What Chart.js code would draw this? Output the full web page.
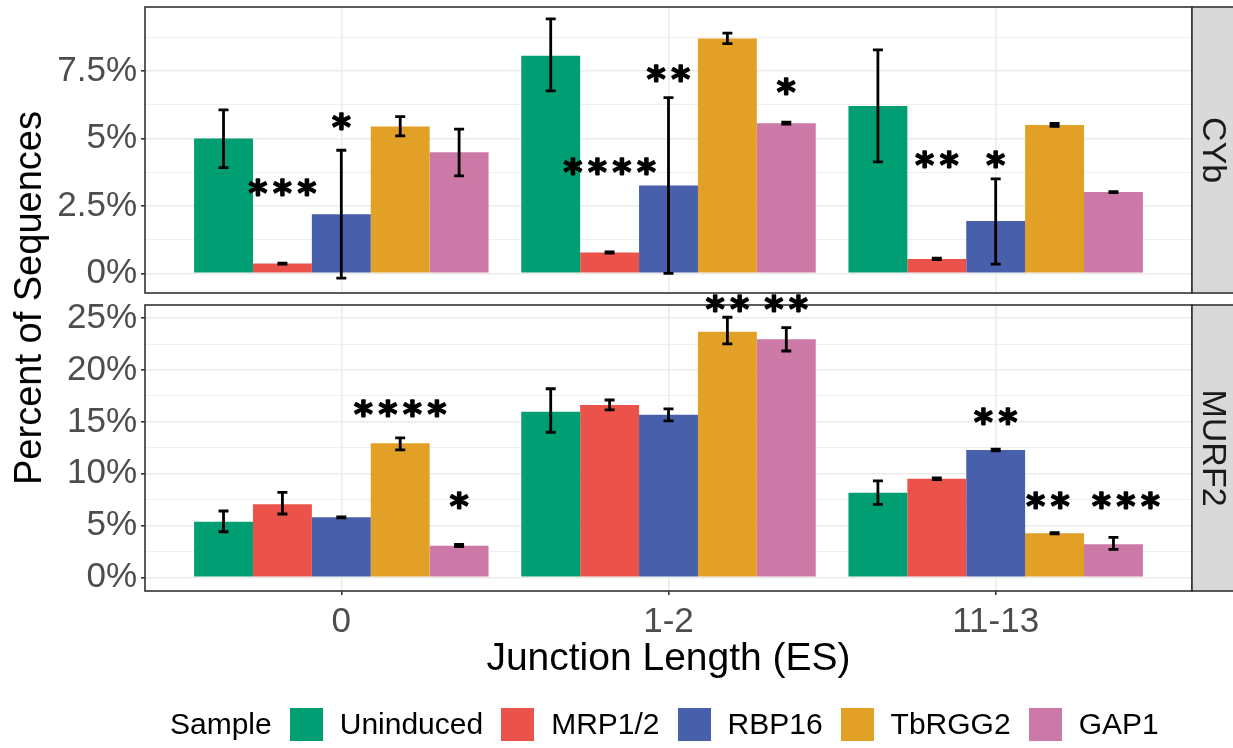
<!DOCTYPE html>
<html>
<head>
<meta charset="utf-8">
<title>Junction length by sample</title>
<script src="https://cdn.jsdelivr.net/npm/chart.js@4.4.1/dist/chart.umd.min.js"></script>
<style>
  html, body { margin: 0; padding: 0; background: #fff; }
  body { width: 1233px; height: 748px; position: relative; overflow: hidden;
         font-family: "Liberation Sans", Arial, sans-serif; }
  canvas { position: absolute; left: 0; }
  #c-cyb   { top: 0; }
  #c-murf2 { top: 285px; }
  #ytitle { position: absolute; left: 28px; top: 298px; transform: translate(-50%, -50%) rotate(-90deg);
            font-size: 38px; line-height: 1; white-space: nowrap; color: #000; }
  #legend { position: absolute; left: 170px; top: 707px; height: 34px; display: flex; align-items: center;
            font-size: 30px; color: #000; white-space: nowrap; }
  .key { width: 33px; height: 33px; margin: 0 17px 0 18px; }
</style>
</head>
<body>
<canvas id="c-cyb" width="1233" height="300"></canvas>
<canvas id="c-murf2" width="1233" height="463"></canvas>
<div id="ytitle">Percent of Sequences</div>
<div id="legend"></div>

<script>
/* ── Data ───────────────────────────────────────────── */
const JUNCTIONS = ['0', '1-2', '11-13'];
const SAMPLES = ['Uninduced', 'MRP1/2', 'RBP16', 'TbRGG2', 'GAP1'];
const COLORS = ['#009E73', '#EB534A', '#4860AB', '#E3A026', '#CC79A7'];

// CYb: one row per sample, one column per junction length (%)
const CYB_MEAN = [
  [5.00, 8.06, 6.20],
  [0.36, 0.77, 0.53],
  [2.19, 3.25, 1.94],
  [5.44, 8.70, 5.50],
  [4.49, 5.56, 3.01],
];
const CYB_LOW = [
  [3.92, 6.76, 4.13],
  [0.34, 0.75, 0.51],
  [-0.18, 0.00, 0.34],
  [5.09, 8.51, 5.45],
  [3.61, 5.53, 2.99],
];
const CYB_HIGH = [
  [6.06, 9.43, 8.28],
  [0.38, 0.79, 0.56],
  [4.56, 6.51, 3.50],
  [5.81, 8.90, 5.56],
  [5.34, 5.60, 3.03],
];
const CYB_STARS = [
  ['', '', ''],
  ['***', '****', '**'],
  ['*', '**', '*'],
  ['', '', ''],
  ['', '*', ''],
];
const CYB_STAR_Y = [
  [null, null, null],
  [3.17, 3.96, 4.20],
  [5.62, 7.41, 4.20],
  [null, null, null],
  [null, 6.94, null],
];
const CYB_STAR_NUDGE = [
  [0, 0, 0], [0, 0, 0], [0, 0, 0], [0, 0, 0], [0, 0, 0],
];
const CYB_TICKS = [0, 2.5, 5, 7.5];
const CYB_MINOR = [1.25, 3.75, 6.25, 8.75];

// MURF2
const MURF2_MEAN = [
  [5.37, 15.99, 8.17],
  [7.04, 16.63, 9.52],
  [5.79, 15.70, 12.29],
  [12.93, 23.71, 4.25],
  [3.05, 22.97, 3.18],
];
const MURF2_LOW = [
  [4.40, 14.00, 7.04],
  [6.11, 16.15, 9.44],
  [5.74, 15.09, 12.20],
  [12.29, 22.52, 4.19],
  [2.97, 21.84, 2.70],
];
const MURF2_HIGH = [
  [6.40, 18.20, 9.30],
  [8.20, 17.11, 9.60],
  [5.84, 16.25, 12.38],
  [13.45, 25.10, 4.31],
  [3.17, 24.09, 3.86],
];
const MURF2_STARS = [
  ['', '', ''],
  ['', '', ''],
  ['', '', '**'],
  ['****', '**', '**'],
  ['*', '**', '***'],
];
const MURF2_STAR_Y = [
  [null, null, null],
  [null, null, null],
  [null, null, 15.5],
  [16.25, 26.45, 7.46],
  [7.46, 26.45, 7.46],
];
// label nudge along x, in junction-category units
const MURF2_STAR_NUDGE = [
  [0, 0, 0], [0, 0, 0], [0, 0, 0],
  [0, 0, -0.02],
  [0, 0, 0.038],
];
const MURF2_TICKS = [0, 5, 10, 15, 20, 25];
const MURF2_MINOR = [2.5, 7.5, 12.5, 17.5, 22.5];

/* ── Styles ─────────────────────────────────────────── */
const FONT = '"Liberation Sans", Arial, sans-serif';
const GRID = '#EBEBEB';
const DARK = '#333333';
const STAR_FONT = 'bold 36px "DejaVu Sans", sans-serif';
const STAR_STEP = 24.5;

/* ── Decorations: error bars, stars, border, strip ─── */
function decor(p) {
  return {
    id: 'decor',
    afterDatasetsDraw(chart) {
      const ctx = chart.ctx, y = chart.scales.y;
      ctx.save();
      ctx.strokeStyle = '#000';
      ctx.lineWidth = 2.8;
      chart.data.datasets.forEach((ds, i) => {
        chart.getDatasetMeta(i).data.forEach((bar, j) => {
          const lo = y.getPixelForValue(p.low[i][j]);
          const hi = y.getPixelForValue(p.high[i][j]);
          ctx.beginPath();
          ctx.moveTo(bar.x, lo); ctx.lineTo(bar.x, hi);
          ctx.moveTo(bar.x - 5, lo); ctx.lineTo(bar.x + 5, lo);
          ctx.moveTo(bar.x - 5, hi); ctx.lineTo(bar.x + 5, hi);
          ctx.stroke();
        });
      });
      ctx.restore();
    },
    afterDraw(chart) {
      const ctx = chart.ctx, a = chart.chartArea, x = chart.scales.x, y = chart.scales.y;
      ctx.save();
      // panel border
      ctx.strokeStyle = DARK;
      ctx.lineWidth = 1.6;
      ctx.strokeRect(a.left, a.top, a.right - a.left, a.bottom - a.top);
      // facet strip
      ctx.fillStyle = '#D9D9D9';
      ctx.fillRect(a.right, a.top, chart.width - a.right, a.bottom - a.top);
      ctx.strokeRect(a.right, a.top, chart.width - a.right + 2, a.bottom - a.top);
      ctx.translate((a.right + chart.width) / 2, (a.top + a.bottom) / 2);
      ctx.rotate(Math.PI / 2);
      ctx.fillStyle = '#1A1A1A';
      ctx.font = `34px ${FONT}`;
      ctx.textAlign = 'center';
      ctx.textBaseline = 'middle';
      ctx.fillText(p.strip, 0, 0);
      ctx.restore();

      // significance stars (stroked as well, for a heavier glyph)
      ctx.save();
      ctx.font = STAR_FONT;
      ctx.fillStyle = '#000';
      ctx.strokeStyle = '#000';
      ctx.lineWidth = 1.6;
      ctx.lineJoin = 'round';
      ctx.textAlign = 'center';
      ctx.textBaseline = 'alphabetic';
      const m = ctx.measureText('*');
      const off = (m.actualBoundingBoxAscent - m.actualBoundingBoxDescent) / 2;
      const unit = x.getPixelForValue(1) - x.getPixelForValue(0);
      chart.data.datasets.forEach((ds, i) => {
        chart.getDatasetMeta(i).data.forEach((bar, j) => {
          const s = p.stars[i][j];
          if (!s) return;
          const px = bar.x + p.nudge[i][j] * unit;
          const py = y.getPixelForValue(p.starY[i][j]) + off;
          for (let k = 0; k < s.length; k++) {
            const sx = px + (k - (s.length - 1) / 2) * STAR_STEP;
            ctx.fillText('*', sx, py);
            ctx.strokeText('*', sx, py);
          }
        });
      });
      ctx.restore();
    },
  };
}

/* ── Panel builder ──────────────────────────────────── */
function buildPanel(canvas, p) {
  const datasets = SAMPLES.map((name, i) => ({
    label: name,
    data: p.mean[i].map((v, j) => ({ x: j, y: v })),
    backgroundColor: COLORS[i],
    borderWidth: 0,
    categoryPercentage: 0.9,
    barPercentage: 1.0,
  }));
  const yTicks = [...p.major, ...p.minor].sort((a, b) => a - b);
  const isMajor = v => p.major.includes(v);

  return new Chart(canvas, {
    type: 'bar',
    data: { datasets },
    options: {
      responsive: false,
      animation: false,
      events: [],
      layout: { padding: { top: p.padTop, bottom: p.padBottom, left: 0, right: 41 } },
      plugins: { legend: { display: false }, tooltip: { enabled: false } },
      scales: {
        x: {
          type: 'linear',
          min: -0.6, max: 2.6,
          offset: false,
          afterBuildTicks: s => { s.ticks = JUNCTIONS.map((_, j) => ({ value: j })); },
          afterFit: s => { s.height = p.xHeight; s.paddingLeft = 0; s.paddingRight = 0; },
          ticks: {
            display: p.showX, autoSkip: false, maxRotation: 0, padding: 6,
            color: '#4D4D4D', font: { family: FONT, size: 35 },
            callback: v => JUNCTIONS[v],
          },
          grid: { offset: false, color: GRID, lineWidth: 1.6, drawTicks: p.showX, tickLength: 4, tickColor: DARK, tickWidth: 1.6 },
          border: { display: false },
          title: {
            display: p.showX, text: 'Junction Length (ES)', color: '#000',
            font: { family: FONT, size: 39 }, padding: { top: 0, bottom: 0 },
          },
        },
        y: {
          min: p.yMin, max: p.yMax,
          afterBuildTicks: s => { s.ticks = yTicks.map(v => ({ value: v })); },
          afterFit: s => { s.width = 145; s.paddingTop = 0; s.paddingBottom = 0; },
          ticks: {
            autoSkip: false, padding: 4,
            color: '#4D4D4D', font: { family: FONT, size: 35 },
            callback: v => isMajor(v) ? v + '%' : '',
          },
          grid: {
            color: GRID,
            lineWidth: c => isMajor(c.tick.value) ? 1.6 : 0.8,
            tickLength: 4,
            tickWidth: 1.6,
            tickColor: c => isMajor(c.tick.value) ? DARK : 'rgba(0,0,0,0)',
          },
          border: { display: false },
        },
      },
    },
    plugins: [decor(p)],
  });
}

buildPanel(document.getElementById('c-cyb'), {
  mean: CYB_MEAN, low: CYB_LOW, high: CYB_HIGH,
  stars: CYB_STARS, starY: CYB_STAR_Y, nudge: CYB_STAR_NUDGE,
  major: CYB_TICKS, minor: CYB_MINOR, yMin: -0.73, yMax: 9.87,
  strip: 'CYb', showX: false, xHeight: 0, padTop: 7, padBottom: 7,
});

buildPanel(document.getElementById('c-murf2'), {
  mean: MURF2_MEAN, low: MURF2_LOW, high: MURF2_HIGH,
  stars: MURF2_STARS, starY: MURF2_STAR_Y, nudge: MURF2_STAR_NUDGE,
  major: MURF2_TICKS, minor: MURF2_MINOR, yMin: -1.32, yMax: 26.28,
  strip: 'MURF2', showX: true, xHeight: 92, padTop: 20, padBottom: 65,
});

/* ── Legend ─────────────────────────────────────────── */
const legend = document.getElementById('legend');
legend.innerHTML = '<span>Sample</span>' + SAMPLES.map((s, i) =>
  `<span class="key" style="background:${COLORS[i]}"></span><span>${s}</span>`
).join('');
</script>
</body>
</html>
